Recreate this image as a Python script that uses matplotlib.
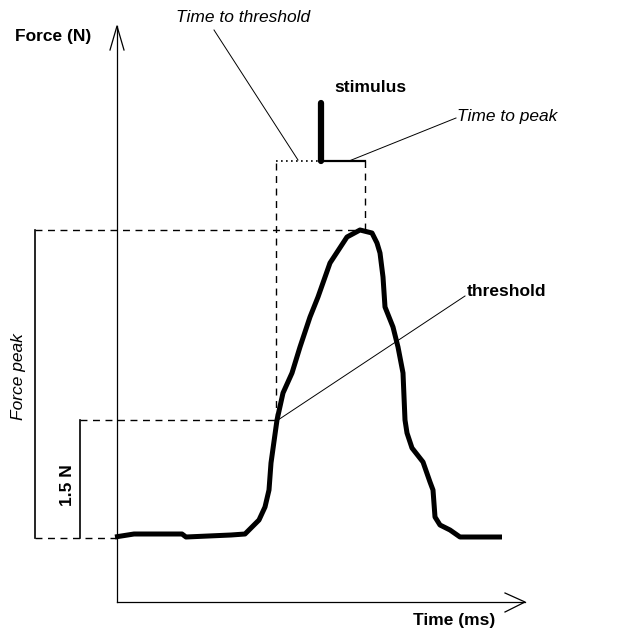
import matplotlib.pyplot as plt

# force trace (time from y axis origin, force above baseline), arbitrary units
time = [-2, 17, 65, 69, 114, 128, 134, 142, 148, 152, 154, 160, 166, 175, 183, 193, 201,
        213, 230, 243, 255, 260, 263, 266, 268, 276, 281, 286, 288, 290, 295, 306, 313,
        316, 318, 323, 333, 343, 385]
force = [1, 4, 4, 1, 3, 4, 10, 18, 31, 48, 75, 118, 145, 165, 191, 221, 241,
         275, 301, 308, 305, 295, 285, 261, 231, 211, 191, 165, 118, 105, 90, 76, 56,
         48, 21, 13, 8, 1, 1]

base = 0
threshold = 118
peak = 308
t_threshold = 159
t_peak = 248
t_stimulus = 204
stim_level = 377
stim_top = 435

fig = plt.figure(figsize=(6.31, 6.29), dpi=100)
ax = fig.add_axes([0, 0, 1, 1])
ax.set_xlim(-117, 514)
ax.set_ylim(-91, 538)
ax.axis('off')

# axes with open arrow heads
ax.plot([0, 0], [-64, 512], color='black', lw=0.9)
ax.plot([-7, 0, 7], [488, 512, 488], color='black', lw=0.9)
ax.plot([0, 408], [-64, -64], color='black', lw=0.9)
ax.plot([388, 408, 388], [-55, -64, -74], color='black', lw=0.9)

# dashed guides
dash = dict(color='black', lw=1.0, ls=(0, (5, 4)))
ax.plot([-82, t_peak - 4], [peak, peak], **dash)
ax.plot([-37, t_threshold + 1], [threshold, threshold], **dash)
ax.plot([-82, 0], [base, base], **dash)
ax.plot([t_threshold, t_threshold], [threshold, stim_level], **dash)
ax.plot([t_peak, t_peak], [peak, stim_level], **dash)

# measure bars
ax.plot([-82, -82], [base, peak], color='black', lw=1.2)
ax.plot([-37, -37], [base, threshold], color='black', lw=1.2)

# stimulus marker and time bars
ax.plot([t_threshold, t_stimulus - 3], [stim_level, stim_level], color='black', lw=1.2, ls=(0, (1, 2)))
ax.plot([t_stimulus, t_peak], [stim_level, stim_level], color='black', lw=1.6)
ax.plot([t_stimulus, t_stimulus], [stim_level, stim_top], color='black', lw=4.5, solid_capstyle='round')

# force curve
ax.plot(time, force, color='black', lw=3.6, solid_joinstyle='round', solid_capstyle='butt')

# leader lines
ax.plot([97, 181], [508, 378], color='black', lw=0.7)
ax.plot([339, 232], [420, 377], color='black', lw=0.7)
ax.plot([348, 161], [242, 118], color='black', lw=0.7)

fam = ['Liberation Sans', 'DejaVu Sans']
fs = 12.5
ax.text(15 - 117, 538 - 37, 'Force (N)', fontsize=fs, fontweight='bold', family=fam, va='center', ha='left')
ax.text(413 - 117, 538 - 620, 'Time (ms)', fontsize=fs, fontweight='bold', family=fam, va='center', ha='left')
ax.text(176 - 117, 538 - 18, 'Time to threshold', fontsize=fs, fontstyle='italic', family=fam, va='center', ha='left')
ax.text(334 - 117, 538 - 88, 'stimulus', fontsize=fs, fontweight='bold', family=fam, va='center', ha='left')
ax.text(457 - 117, 538 - 116, 'Time to peak', fontsize=fs, fontstyle='italic', family=fam, va='center', ha='left')
ax.text(467 - 117, 538 - 292, 'threshold', fontsize=fs, fontweight='bold', family=fam, va='center', ha='left')
ax.text(19 - 117, 538 - 377, 'Force peak', fontsize=fs, fontstyle='italic', family=fam,
        va='center', ha='center', rotation=90)
ax.text(68 - 117, 538 - 485, '1.5 N', fontsize=fs, fontweight='bold', family=fam,
        va='center', ha='center', rotation=90)

fig.savefig('out.png', dpi=100)
